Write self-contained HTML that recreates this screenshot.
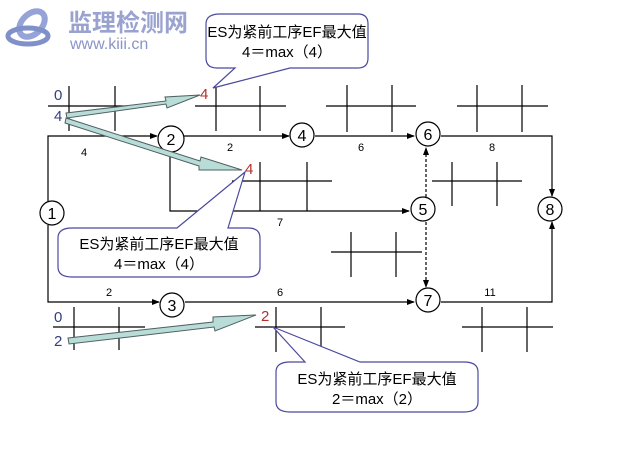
<!DOCTYPE html>
<html><head><meta charset="utf-8"><style>
body{margin:0;background:#fff;}
svg{display:block;}
text{font-family:"Liberation Sans","Noto Sans CJK SC",sans-serif;}
</style></head><body>
<svg width="628" height="474" viewBox="0 0 628 474" xmlns="http://www.w3.org/2000/svg">
<defs>
<marker id="ah" markerWidth="8" markerHeight="8" refX="7" refY="4" orient="auto" markerUnits="userSpaceOnUse"><path d="M0,1 L8,4 L0,7 Z" fill="#000"/></marker>
</defs>
<g>
<ellipse cx="32" cy="24" rx="15" ry="10" fill="none" stroke="#95a3d8" stroke-width="6" transform="rotate(-45 32 24)"/>
<ellipse cx="28" cy="36" rx="20" ry="8" fill="none" stroke="#8090c8" stroke-width="5"/>
<text x="68" y="31" font-size="24" font-weight="bold" fill="#9aa2d0">监理检测网</text>
<text x="70" y="49" font-size="16" fill="#8a94c8">www.kiii.cn</text>
</g>
<g stroke="#000" stroke-width="1.2" fill="none">
<path d="M48,106H140M69,86V131M115,86V131"/>
<path d="M195,106H286M216,86V131M260,86V131"/>
<path d="M326,106H416M347,85V132M392,85V132"/>
<path d="M457,106H548M477,85V132M522,85V132"/>
<path d="M232,181H332M260,162V211M307,162V211"/>
<path d="M432,181H522M452,162V206M497,162V206"/>
<path d="M331,252H422M351,232V277M396,232V277"/>
<path d="M53,327H145M74,307V350M119,307V350"/>
<path d="M255,327H345M276,307V352M321,307V352"/>
<path d="M462,327H553M482,307V352M527,307V352"/>
<path d="M48,201V136H157" marker-end="url(#ah)"/>
<path d="M184,136H289" marker-end="url(#ah)"/>
<path d="M315,136H414" marker-end="url(#ah)"/>
<path d="M170,152V211H409" marker-end="url(#ah)"/>
<path d="M48,225V302H159" marker-end="url(#ah)"/>
<path d="M185,302H414" marker-end="url(#ah)"/>
<path d="M441,136H552V196" marker-end="url(#ah)"/>
<path d="M441,302H552V222" marker-end="url(#ah)"/>
<path d="M426,197V148" stroke-dasharray="3,2" marker-end="url(#ah)"/>
<path d="M426,222V287" stroke-dasharray="3,2" marker-end="url(#ah)"/>
</g>
<g stroke="#000" stroke-width="1.2" fill="#fff">
<circle cx="52" cy="213" r="12"/>
<circle cx="171" cy="139" r="13"/>
<circle cx="172" cy="305" r="12"/>
<circle cx="302" cy="135" r="12"/>
<circle cx="423" cy="209" r="12"/>
<circle cx="428" cy="134" r="12"/>
<circle cx="428" cy="300" r="12"/>
<circle cx="550" cy="209" r="12"/>
</g>
<g font-size="16" text-anchor="middle" fill="#000">
<text x="52" y="219">1</text><text x="171" y="145">2</text><text x="172" y="311">3</text>
<text x="302" y="141">4</text><text x="423" y="215">5</text><text x="428" y="140">6</text>
<text x="428" y="306">7</text><text x="550" y="215">8</text>
</g>
<g font-size="11" text-anchor="middle" fill="#000">
<text x="84" y="156">4</text><text x="230" y="151">2</text><text x="361" y="151">6</text>
<text x="492" y="151">8</text><text x="280" y="226">7</text><text x="109" y="296">2</text>
<text x="280" y="296">6</text><text x="490" y="296">11</text>
</g>
<g font-size="15" fill="#334080">
<text x="54" y="100">0</text><text x="54" y="121">4</text>
<text x="54" y="322">0</text><text x="54" y="346">2</text>
</g>
<g font-size="15" fill="#b03030">
<text x="200" y="99">4</text><text x="245" y="174">4</text><text x="261" y="321">2</text>
</g>
<g fill="#b8dcd8" stroke="#506060" stroke-width="1">
<path d="M66,113 L166,101 L165,97 L200,95 L167,108 L166,104 L67,118 Z"/>
<path d="M66,118 L200,161 L201,157 L242,170 L199,170 L199,166 L65,123 Z"/>
<path d="M68,338 L213,322 L213,317 L256,315 L215,331 L214,327 L69,344 Z"/>
</g>
<g fill="#fff" stroke="#4a4aa0" stroke-width="1.2">
<path d="M220,14 H358 Q368,14 368,24 V58 Q368,68 358,68 H290 L213,88 L235,68 H217 Q206,68 206,58 V24 Q206,14 220,14 Z"/>
<path d="M72,228 H177 L245,172 L228,228 H248 Q260,228 260,238 V267 Q260,277 248,277 H72 Q58,277 58,267 V238 Q58,228 72,228 Z"/>
<path d="M290,362 H305 L273,327 L360,362 H464 Q478,362 478,372 V402 Q478,412 464,412 H290 Q276,412 276,402 V372 Q276,362 290,362 Z"/>
</g>
<g font-size="15" text-anchor="middle" fill="#000">
<text x="287" y="37">ES为紧前工序EF最大值</text><text x="287" y="57">4＝max（4）</text>
<text x="159" y="249">ES为紧前工序EF最大值</text><text x="159" y="269">4＝max（4）</text>
<text x="377" y="384">ES为紧前工序EF最大值</text><text x="377" y="404">2＝max（2）</text>
</g>
</svg>
</body></html>
